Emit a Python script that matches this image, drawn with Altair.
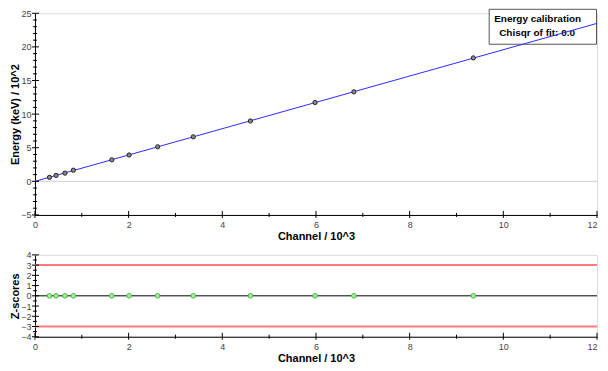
import altair as alt
import pandas as pd

# ---- data ----
channel = [0.31, 0.45, 0.64, 0.82, 1.64, 2.01, 2.62, 3.38, 4.60, 5.98, 6.81, 9.36]   # Channel / 10^3
energy = [0.60, 0.88, 1.22, 1.66, 3.20, 3.92, 5.14, 6.62, 8.98, 11.73, 13.32, 18.36]  # Energy (keV) / 10^2
zscore = [0, 0, 0, 0, 0, 0, 0, 0, 0, 0, 0, 0]
fit_channel = [0, 12]
fit_energy = [0, 23.5]
z_limits = [-3, 3]
zero_line = [0]

x_major = [0, 2, 4, 6, 8, 10, 12]
x_minor = [1, 3, 5, 7, 9, 11]
y_top_major = [-5, 0, 5, 10, 15, 20, 25]
y_top_minor = [-4, -3, -2, -1, 1, 2, 3, 4, 6, 7, 8, 9, 11, 12, 13, 14,
               16, 17, 18, 19, 21, 22, 23, 24]
y_bot_major = [-4, -3, -2, -1, 0, 1, 2, 3, 4]
y_bot_minor = [-3.5, -2.5, -1.5, -0.5, 0.5, 1.5, 2.5, 3.5]
legend_lines = ["Energy calibration", "Chisqr of fit: 0.0"]

W = 563
H1 = 202
H2 = 82
FONT = "Liberation Sans"

xscale = alt.Scale(domain=[0, 12], nice=False, zero=False)
y1scale = alt.Scale(domain=[-5, 25], nice=False, zero=False)
y2scale = alt.Scale(domain=[-4, 4], nice=False, zero=False)

XAX = alt.Axis(values=x_major, ticks=False, grid=False, domainColor="black",
               labelPadding=6, labelFontSize=9, labelColor="#444",
               labelAlign={"condition": {"test": "datum.value == 12", "value": "right"},
                           "value": "center"},
               title="Channel / 10^3", titleFontSize=11, titleFontWeight="bold",
               titlePadding=1, titleColor="black")


def yaxis(vals, title):
    return alt.Axis(values=vals, ticks=False, grid=False, domainColor="black",
                    labelPadding=4, labelFontSize=9, labelColor="#444",
                    title=title, titleFontSize=11, titleFontWeight="bold",
                    titlePadding=0, titleColor="black")


Y1AX = yaxis(y_top_major, "Energy (keV) / 10^2")
Y2AX = yaxis(y_bot_major, "Z-scores")

df = pd.DataFrame({"channel": channel, "energy": energy, "z": zscore})
fit_df = pd.DataFrame({"channel": fit_channel, "energy": fit_energy})
leg1 = pd.DataFrame({"t": [legend_lines[0]]})
leg2 = pd.DataFrame({"t": [legend_lines[1]]})


def tick_layers(xmaj, xmin, ymaj, ymin, yscale, yax, h):
    out = []
    for vals, a, b in ((xmaj, 4, 3), (xmin, 2, 2)):
        out.append(alt.Chart(pd.DataFrame({"channel": vals})).mark_rule(color="black", strokeWidth=1).encode(
            x=alt.X("channel:Q", scale=xscale, axis=XAX),
            y=alt.value(h - a), y2=alt.value(h + b)))
    for vals, a, b in ((ymaj, 3, 4), (ymin, 2, 2)):
        out.append(alt.Chart(pd.DataFrame({"v": vals})).mark_rule(color="black", strokeWidth=1).encode(
            y=alt.Y("v:Q", scale=yscale, axis=yax),
            x=alt.value(-a), x2=alt.value(b)))
    return out

# ---------- top panel ----------
zero_top = alt.Chart(pd.DataFrame({"v": zero_line})).mark_rule(color="#d0d0d0", strokeWidth=1).encode(
    y=alt.Y("v:Q", scale=y1scale, axis=Y1AX))

box = alt.Chart(leg1).mark_rect(fill="white", stroke="#555", strokeWidth=1).encode(
    x=alt.value(455), x2=alt.value(W - 0.5), y=alt.value(-4), y2=alt.value(31))
t1 = alt.Chart(leg1).mark_text(align="left", baseline="alphabetic", font=FONT, fontSize=10,
                                fontWeight="bold", color="black").encode(
    text="t:N", x=alt.value(460), y=alt.value(9))
t2 = alt.Chart(leg2).mark_text(align="left", baseline="alphabetic", font=FONT, fontSize=10,
                                fontWeight="bold", color="black").encode(
    text="t:N", x=alt.value(465), y=alt.value(22.5))

fit = alt.Chart(fit_df).mark_line(color="#2a2aff", strokeWidth=1).encode(
    x=alt.X("channel:Q", scale=xscale, axis=XAX),
    y=alt.Y("energy:Q", scale=y1scale, axis=Y1AX))

pts = alt.Chart(df).mark_point(shape="circle", size=18, filled=True, fill="#8a8a8a",
                               stroke="#222", strokeWidth=1, opacity=1).encode(
    x=alt.X("channel:Q", scale=xscale, axis=XAX),
    y=alt.Y("energy:Q", scale=y1scale, axis=Y1AX))

top = alt.layer(zero_top, box, t1, t2, fit, pts,
                *tick_layers(x_major, x_minor, y_top_major, y_top_minor, y1scale, Y1AX, H1)
                ).properties(width=W, height=H1)

# ---------- bottom panel ----------
red = alt.Chart(pd.DataFrame({"v": z_limits})).mark_rule(color="#ff7a7a", strokeWidth=2).encode(
    y=alt.Y("v:Q", scale=y2scale, axis=Y2AX))
zero_bot = alt.Chart(pd.DataFrame({"v": zero_line})).mark_rule(color="black", strokeWidth=1).encode(
    y=alt.Y("v:Q", scale=y2scale, axis=Y2AX))
zpts = alt.Chart(df).mark_point(shape="circle", size=22, filled=True, fill="#a8e8a0",
                                stroke="#44bb44", strokeWidth=1, opacity=1).encode(
    x=alt.X("channel:Q", scale=xscale, axis=XAX),
    y=alt.Y("z:Q", scale=y2scale, axis=Y2AX))

bottom = alt.layer(red, zero_bot, zpts,
                   *tick_layers(x_major, x_minor, y_bot_major, y_bot_minor, y2scale, Y2AX, H2)
                   ).properties(width=W, height=H2)

chart = alt.vconcat(top, bottom, spacing=7).properties(
    padding={"left": 1, "top": 0, "right": 0, "bottom": 0}
).configure_view(stroke=None).configure_axis(
    labelFont=FONT, titleFont=FONT
).configure(background="white")

chart.save("out.html", embed_options={"renderer": "svg", "actions": False})
